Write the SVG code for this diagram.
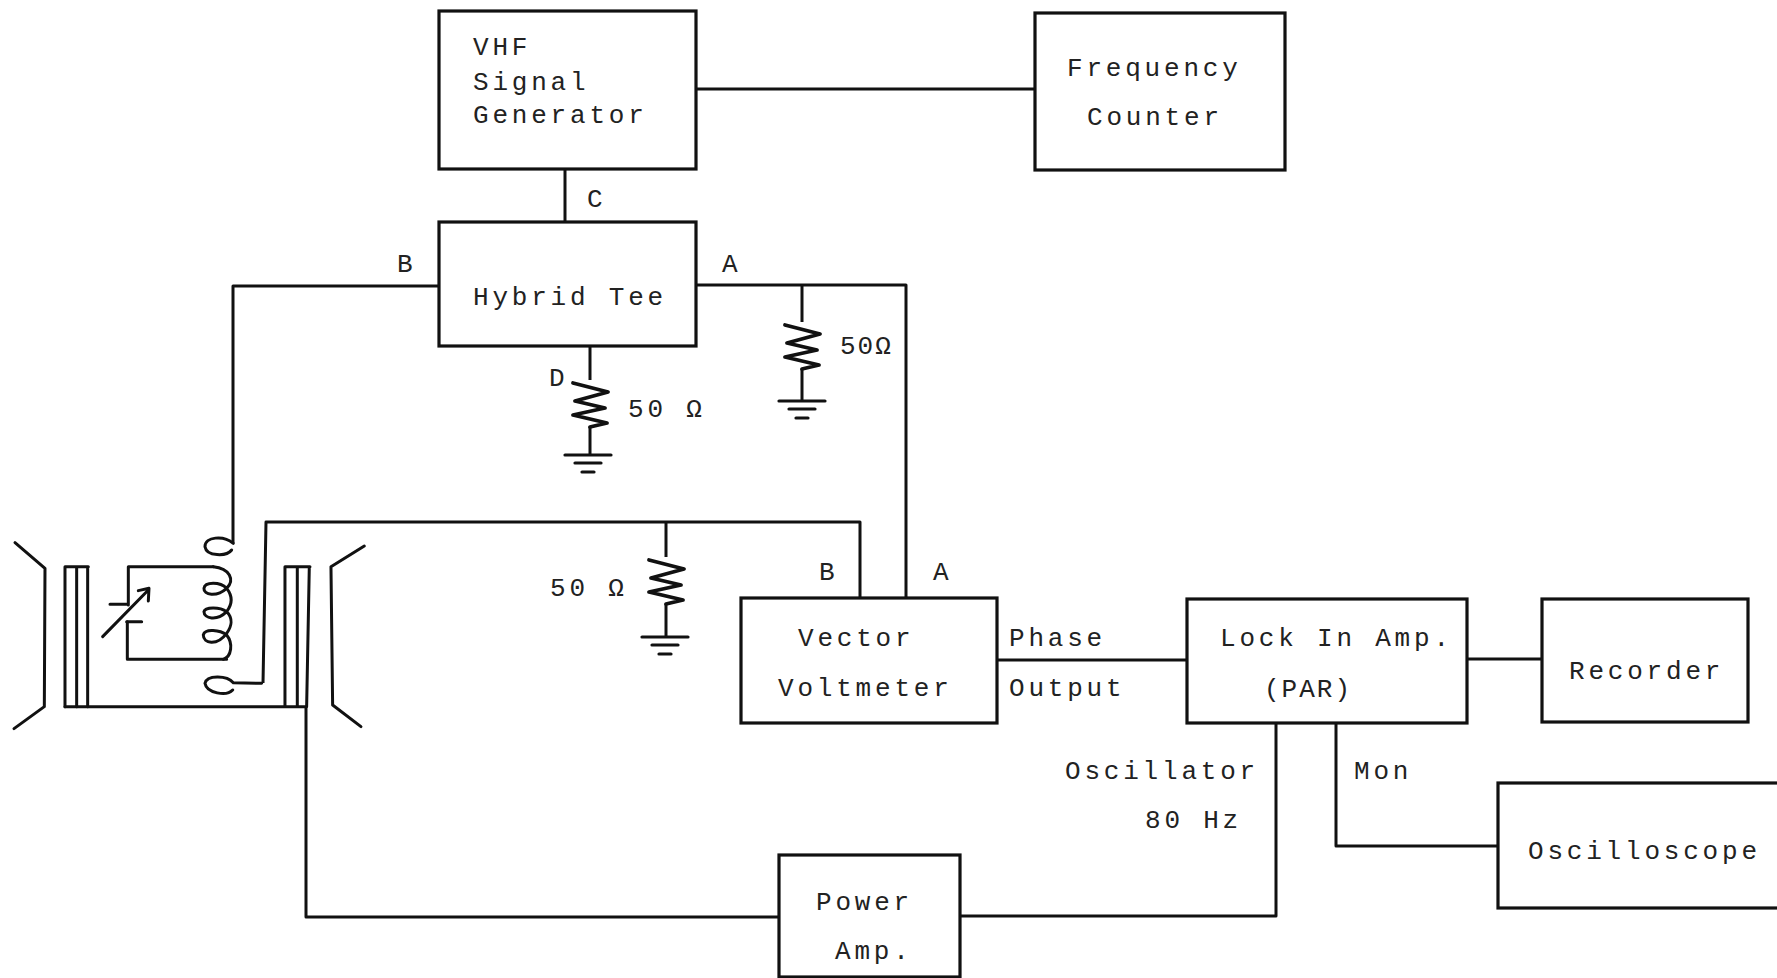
<svg xmlns="http://www.w3.org/2000/svg" width="1777" height="978" viewBox="0 0 1777 978">
<style>
text{font-family:"Liberation Mono","DejaVu Sans Mono",monospace;font-size:26px;letter-spacing:3.8px;fill:#222}
.b{fill:#fff;stroke:#111;stroke-width:3.2}
.w{fill:none;stroke:#111;stroke-width:3;stroke-linejoin:round}
.z{fill:none;stroke:#111;stroke-width:3.8;stroke-linejoin:round;stroke-linecap:round}
.g{fill:none;stroke:#111;stroke-width:3.2;stroke-linecap:round}
.t{fill:none;stroke:#111;stroke-width:9;stroke-linejoin:round;stroke-linecap:round}
</style>
<defs>
<path id="zig" class="z" d="M-17 3 L18 12 L-15 21 L15 28 L-17 35 L17 43 L0 47"/>
<path id="gnd" class="g" d="M-23 0 H23 M-13 8 H13 M-6 17 H6"/>
</defs>
<rect width="1777" height="978" fill="#fff"/>
<g id="connectors">
<path class="w" d="M696 89 H1035"/>
<path class="w" d="M565 169 V222"/>
<path class="w" d="M439 286 H233 V543"/>
<path class="w" d="M696 285 H906 V597"/>
<path class="w" d="M802 285 V322"/>
<path class="w" d="M590 346 V380"/>
<path class="w" d="M666 522 V557"/>
<path class="w" d="M263 683 L266 522 H860 V597"/>
<path class="w" d="M997 660 H1186"/>
<path class="w" d="M1467 659 H1541"/>
<path class="w" d="M1276 723 V916 H960"/>
<path class="w" d="M1336 723 V846 H1497"/>
<path class="w" d="M778 917 H306 V707"/>
</g>
<g id="vhf-generator"><rect class="b" x="439" y="11" width="257" height="158"/>
<text x="473" y="55">VHF</text><text x="473" y="90">Signal</text><text x="473" y="123">Generator</text></g>
<g id="frequency-counter"><rect class="b" x="1035" y="13" width="250" height="157"/>
<text x="1067" y="76">Frequency</text><text x="1087" y="125">Counter</text></g>
<g id="hybrid-tee"><rect class="b" x="439" y="222" width="257" height="124"/>
<text x="473" y="305">Hybrid Tee</text></g>
<g id="vector-voltmeter"><rect class="b" x="741" y="598" width="256" height="125"/>
<text x="798" y="646">Vector</text><text x="778" y="696">Voltmeter</text></g>
<g id="lock-in-amp"><rect class="b" x="1187" y="599" width="280" height="124"/>
<text x="1220" y="646">Lock In Amp.</text><text x="1264" y="697" style="letter-spacing:2px">(PAR)</text></g>
<g id="recorder"><rect class="b" x="1542" y="599" width="206" height="123"/>
<text x="1569" y="679">Recorder</text></g>
<g id="oscilloscope"><rect class="b" x="1498" y="783" width="290" height="125"/>
<text x="1528" y="859">Oscilloscope</text></g>
<g id="power-amp"><rect class="b" x="779" y="855" width="181" height="122"/>
<text x="816" y="910">Power</text><text x="835" y="959">Amp.</text></g>
<g id="resistor-d"><use href="#zig" x="590" y="380"/><path class="w" d="M590 427 V455"/><use href="#gnd" x="588" y="455"/></g>
<g id="resistor-a"><use href="#zig" x="802" y="322"/><path class="w" d="M802 369 V401"/><use href="#gnd" x="802" y="401"/></g>
<g id="resistor-b"><use href="#zig" x="666" y="557"/><path class="w" d="M666 604 V637"/><use href="#gnd" x="665" y="637"/></g>
<g id="labels">
<text x="587" y="207">C</text>
<text x="397" y="272">B</text>
<text x="722" y="272">A</text>
<text x="549" y="386">D</text>
<text x="628" y="417">50 Ω</text>
<text x="840" y="354" style="letter-spacing:2px">50Ω</text>
<text x="550" y="596">50 Ω</text>
<text x="819" y="580">B</text>
<text x="933" y="580">A</text>
<text x="1009" y="646">Phase</text>
<text x="1009" y="696">Output</text>
<text x="1065" y="779">Oscillator</text>
<text x="1145" y="828">80 Hz</text>
<text x="1354" y="779">Mon</text>
</g>
<g id="transformer" transform="translate(0 500) scale(0.3333)">
<path class="t" d="M45 128 L135 205 L133 620 L42 686"/>
<path class="t" d="M1093 138 L993 200 L998 615 L1083 680"/>
<path class="t" d="M195 200 V620 M230 200 V620 M263 200 V620 M195 200 H265"/>
<path class="t" d="M195 620 H918 M855 200 V620 M892 200 V620 M928 200 L920 620 M855 200 H930"/>
<path class="t" d="M640 200 H385 V315 M382 365 V478 H680"/>
<path class="t" d="M330 313 H380 M380 365 H425 M308 410 L445 270 M415 272 L447 265 L445 303"/>
<path class="t" d="M640 200 C690 205 705 240 680 265 C650 292 610 285 612 265 C615 245 660 245 680 265 C700 290 695 315 680 335 C650 365 612 355 612 335 C615 320 660 320 680 335 C700 355 695 380 680 400 C650 440 610 430 610 405 C615 385 660 390 680 405 C700 430 695 470 670 478"/>
<path class="t" d="M700 130 C670 105 615 110 615 140 C620 170 680 170 695 150"/>
<path class="t" d="M785 550 L700 548 C680 525 620 525 615 550 C620 580 680 590 698 570"/>
</g>
</svg>
